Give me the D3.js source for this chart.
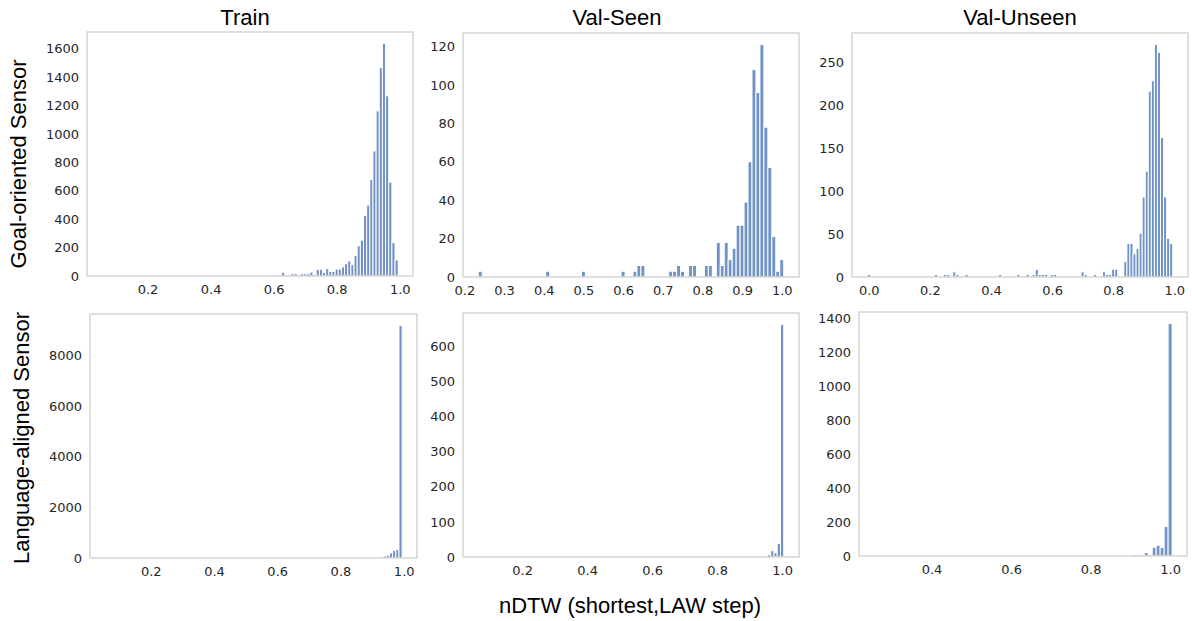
<!DOCTYPE html>
<html>
<head>
<meta charset="utf-8">
<script src="https://cdn.jsdelivr.net/npm/d3@7/dist/d3.min.js"></script>
<style>
	body { margin: 0; background: #fff; }
	.tick text { font-family: "DejaVu Sans", sans-serif; font-size: 13px; fill: #262626; }
	.lbl { font-family: "Liberation Sans", Arial, sans-serif; fill: #000; }
</style>
</head>
<body>
<svg id="chart" width="1192" height="621"></svg>
<script>

// histogram bins: centre of each 0.01-wide bin (nDTW) and its count
const binWidth = 0.01;

const trainGoalX = [0.06, 0.24, 0.37, 0.44, 0.47, 0.51, 0.52, 0.53, 0.55, 0.56, 0.58, 0.60, 0.61, 0.62, 0.63,
	0.66, 0.67, 0.68, 0.69, 0.70, 0.71, 0.72, 0.73, 0.74, 0.75, 0.76, 0.77, 0.78, 0.79, 0.80, 0.81, 0.82, 0.83,
	0.84, 0.85, 0.86, 0.87, 0.88, 0.89, 0.90, 0.91, 0.92, 0.93, 0.94, 0.95, 0.96, 0.97, 0.98, 0.99];
const trainGoalY = [1, 3, 5, 5, 3, 6, 6, 5, 6, 5, 3, 5, 8, 9, 26,
	16, 16, 9, 16, 16, 16, 28, 12, 47, 47, 26, 52, 33, 33, 49, 49, 64, 87,
	106, 80, 144, 212, 252, 426, 499, 678, 880, 1162, 1466, 1635, 1268, 661, 235, 113];

const seenGoalX = [0.24, 0.41, 0.50, 0.60, 0.63, 0.64, 0.65, 0.72, 0.73, 0.74, 0.75, 0.77, 0.78, 0.81, 0.82,
	0.84, 0.85, 0.86, 0.87, 0.88, 0.89, 0.90, 0.91, 0.92, 0.93, 0.94, 0.95, 0.96, 0.97, 0.98, 0.99, 1.00];
const seenGoalY = [3, 3, 3, 3, 3, 6, 6, 3, 3, 6, 3, 6, 6, 6, 6,
	18, 6, 18, 9, 15, 27, 27, 39, 60, 108, 96, 121, 78, 57, 21, 3, 9];

const unseenGoalX = [0.00, 0.22, 0.25, 0.26, 0.28, 0.29, 0.32, 0.43, 0.49, 0.52, 0.54, 0.55, 0.56, 0.57, 0.58, 0.60, 0.61,
	0.70, 0.71, 0.74, 0.77, 0.78, 0.79, 0.80, 0.81,
	0.84, 0.85, 0.86, 0.87, 0.88, 0.89, 0.90, 0.91, 0.92, 0.93, 0.94, 0.95, 0.96, 0.97, 0.98, 0.99];
const unseenGoalY = [3, 3, 3, 3, 6, 3, 3, 3, 3, 3, 3, 9, 3, 3, 3, 3, 3,
	6, 3, 3, 6, 3, 3, 9, 9,
	18, 39, 39, 27, 33, 51, 93, 123, 216, 228, 270, 261, 162, 93, 45, 39];

const trainLangX = [0.06, 0.93, 0.94, 0.95, 0.96, 0.97, 0.98, 0.99];
const trainLangY = [1, 60, 80, 110, 200, 300, 330, 9180];

const seenLangX = [0.07, 0.41, 0.96, 0.97, 0.98, 0.99, 1.00];
const seenLangY = [1, 3, 6, 18, 12, 39, 662];

const unseenLangX = [0.26, 0.91, 0.92, 0.93, 0.94, 0.95, 0.96, 0.97, 0.98, 0.99, 1.00];
const unseenLangY = [1, 8, 8, 8, 20, 8, 51, 63, 51, 173, 1367];

// tick labels
const xTicksTrain = [0.2, 0.4, 0.6, 0.8, 1.0];
const xTicksSeenGoal = [0.2, 0.3, 0.4, 0.5, 0.6, 0.7, 0.8, 0.9, 1.0];
const xTicksUnseenGoal = [0.0, 0.2, 0.4, 0.6, 0.8, 1.0];
const xTicksUnseenLang = [0.4, 0.6, 0.8, 1.0];
const yTicksTrainGoal = [0, 200, 400, 600, 800, 1000, 1200, 1400, 1600];
const yTicksSeenGoal = [0, 20, 40, 60, 80, 100, 120];
const yTicksUnseenGoal = [0, 50, 100, 150, 200, 250];
const yTicksTrainLang = [0, 2000, 4000, 6000, 8000];
const yTicksSeenLang = [0, 100, 200, 300, 400, 500, 600];
const yTicksUnseenLang = [0, 200, 400, 600, 800, 1000, 1200, 1400];

const columnTitles = ["Train", "Val-Seen", "Val-Unseen"];
const rowTitles = ["Goal-oriented Sensor", "Language-aligned Sensor"];
const xTitle = "nDTW (shortest,LAW step)";


let svg = d3.select("#chart");

// panel boxes: left, top, right, bottom (pixels)
let panels = [
	{ box: [87, 32, 413, 276], xs: trainGoalX, ys: trainGoalY, xt: xTicksTrain, yt: yTicksTrainGoal },
	{ box: [463, 33, 799, 277], xs: seenGoalX, ys: seenGoalY, xt: xTicksSeenGoal, yt: yTicksSeenGoal },
	{ box: [852, 33, 1188, 277], xs: unseenGoalX, ys: unseenGoalY, xt: xTicksUnseenGoal, yt: yTicksUnseenGoal },
	{ box: [90, 314, 417, 558], xs: trainLangX, ys: trainLangY, xt: xTicksTrain, yt: yTicksTrainLang },
	{ box: [463, 313, 799, 557], xs: seenLangX, ys: seenLangY, xt: xTicksTrain, yt: yTicksSeenLang },
	{ box: [859, 312, 1187, 556], xs: unseenLangX, ys: unseenLangY, xt: xTicksUnseenLang, yt: yTicksUnseenLang }
];

panels.forEach(function(p){
	let [l, t, r, b] = p.box;

	// matplotlib-like autoscale: 5% margin on x, 5% headroom on y
	let lo = d3.min(p.xs) - binWidth / 2;
	let hi = d3.max(p.xs) + binWidth / 2;
	let pad = 0.05 * (hi - lo);

	let x = d3.scaleLinear().domain([lo - pad, hi + pad]).range([l, r]);
	let y = d3.scaleLinear().domain([0, d3.max(p.ys) * 1.05]).range([b, t]);

	let g = svg.append("g");

	g.selectAll("rect.bar")
		.data(p.xs.map((c, i) => ({ c: c, n: p.ys[i] })))
		.enter()
		.append("rect")
		.attr("class", "bar")
		.attr("x", d => x(d.c - binWidth / 2))
		.attr("y", d => y(d.n))
		.attr("width", d => x(d.c + binWidth / 2) - x(d.c - binWidth / 2))
		.attr("height", d => y(0) - y(d.n))
		.attr("fill", "#7193c6")
		.attr("stroke", "#fff")
		.attr("stroke-width", 1);

	// frame
	g.append("rect")
		.attr("x", l)
		.attr("y", t)
		.attr("width", r - l)
		.attr("height", b - t)
		.attr("fill", "none")
		.attr("stroke", "#cccccc")
		.attr("stroke-width", 1.25);

	let xAxis = g.append("g")
		.attr("transform", "translate(0," + b + ")")
		.call(d3.axisBottom(x).tickValues(p.xt).tickFormat(d3.format(".1f")).tickSize(0).tickPadding(9));
	xAxis.select(".domain").remove();

	let yAxis = g.append("g")
		.attr("transform", "translate(" + l + ",0)")
		.call(d3.axisLeft(y).tickValues(p.yt).tickFormat(d3.format("d")).tickSize(0).tickPadding(8));
	yAxis.select(".domain").remove();
});

// column titles
let titleX = [245, 617, 1020];
columnTitles.forEach(function(txt, i){
	svg.append("text")
		.attr("class", "lbl")
		.attr("x", titleX[i])
		.attr("y", 25)
		.attr("text-anchor", "middle")
		.attr("font-size", "22px")
		.text(txt);
});

// row titles
let rowY = [164, 438];
let rowX = [26, 29];
rowTitles.forEach(function(txt, i){
	svg.append("text")
		.attr("class", "lbl")
		.attr("transform", "translate(" + rowX[i] + "," + rowY[i] + ") rotate(-90)")
		.attr("text-anchor", "middle")
		.attr("font-size", "22px")
		.text(txt);
});

svg.append("text")
	.attr("class", "lbl")
	.attr("x", 630)
	.attr("y", 613)
	.attr("text-anchor", "middle")
	.attr("font-size", "22px")
	.text(xTitle);

</script>
</body>
</html>
